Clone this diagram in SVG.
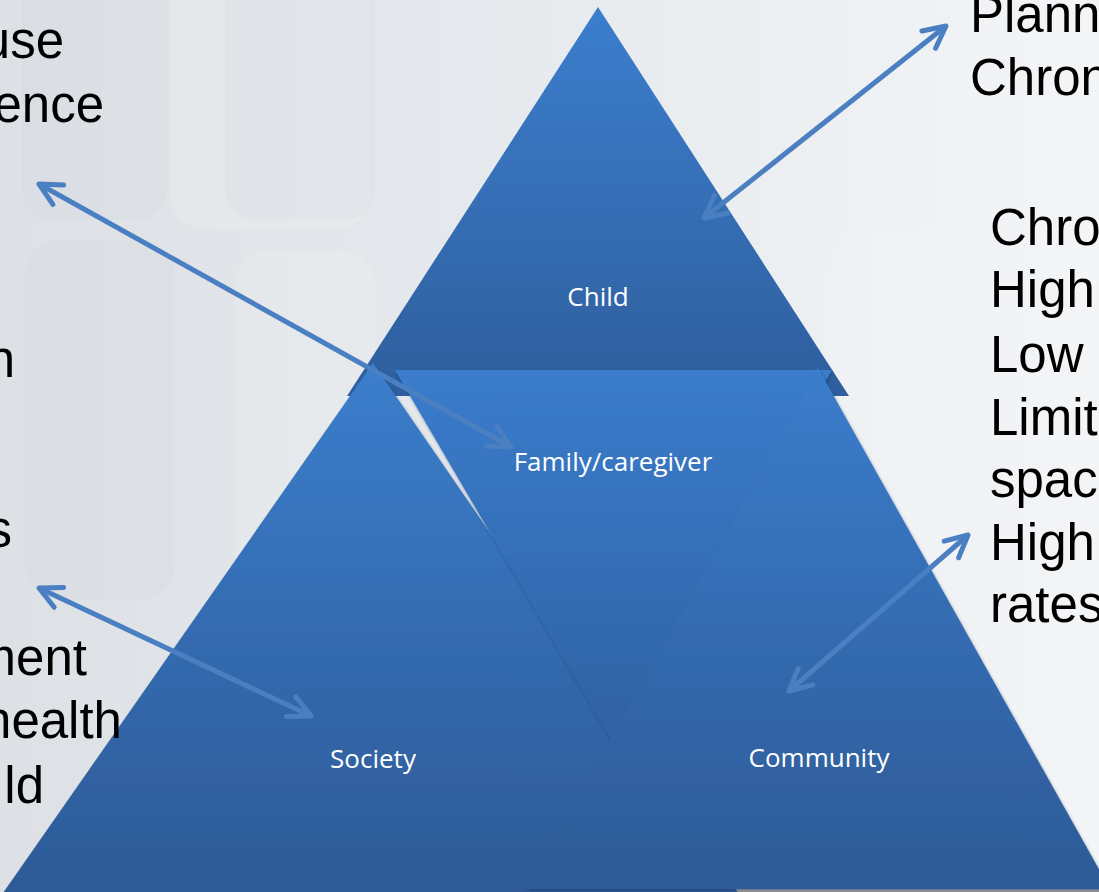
<svg xmlns="http://www.w3.org/2000/svg" width="1099" height="892" viewBox="0 0 1099 892">
  <style>
    .side { font-family: "Liberation Sans", Arial, sans-serif; font-size: 51px; fill: #000; }
    .lbl { font-family: "Open Sans", "Noto Sans", sans-serif; font-size: 26px; fill: #fff; text-anchor: middle; }
    .conn { fill: none; stroke: #4a7fc2; stroke-width: 5; stroke-linecap: butt; }
    .bgshape { fill: #ffffff; opacity: 0.12; }
    .bgdark { fill: #c9ced4; opacity: 0.12; }
  </style>
  <defs>
    <linearGradient id="bg" x1="0" y1="0" x2="1" y2="0">
      <stop offset="0" stop-color="#dde1e6"/>
      <stop offset="0.45" stop-color="#e6e9ed"/>
      <stop offset="1" stop-color="#f3f5f7"/>
    </linearGradient>
    <linearGradient id="gChild" gradientUnits="userSpaceOnUse" x1="0" y1="7" x2="0" y2="396">
      <stop offset="0" stop-color="#3b7ecd"/>
      <stop offset="0.45" stop-color="#3670b8"/>
      <stop offset="1" stop-color="#2e5e9d"/>
    </linearGradient>
    <linearGradient id="gSoc" gradientUnits="userSpaceOnUse" x1="0" y1="363" x2="0" y2="890">
      <stop offset="0" stop-color="#3b7ecd"/>
      <stop offset="1" stop-color="#2d5a96"/>
    </linearGradient>
    <linearGradient id="gFam" gradientUnits="userSpaceOnUse" x1="0" y1="370" x2="0" y2="740">
      <stop offset="0" stop-color="#3a7ccc"/>
      <stop offset="1" stop-color="#3062a3"/>
    </linearGradient>
    <linearGradient id="gCom" gradientUnits="userSpaceOnUse" x1="0" y1="368" x2="0" y2="889">
      <stop offset="0" stop-color="#3b7dcc"/>
      <stop offset="1" stop-color="#2d5a96"/>
    </linearGradient>
    <filter id="shadow" x="-10%" y="-10%" width="120%" height="120%">
      <feDropShadow dx="1" dy="2" stdDeviation="1.5" flood-color="#1d3557" flood-opacity="0.45"/>
    </filter>
    <marker id="ah" viewBox="-30 -15 34 30" refX="0" refY="0" markerWidth="34" markerHeight="30" markerUnits="userSpaceOnUse" orient="auto-start-reverse" overflow="visible">
      <path d="M-22,-11 L0,0 L-22,11" fill="none" stroke="#4a7fc2" stroke-width="5" stroke-linecap="round" stroke-linejoin="round"/>
    </marker>
  </defs>

  <!-- background -->
  <rect x="0" y="0" width="1099" height="892" fill="url(#bg)"/>
  <rect class="bgdark" x="22" y="-40" width="145" height="260" rx="30"/>
  <rect class="bgdark" x="25" y="240" width="150" height="360" rx="35"/>
  <rect class="bgshape" x="170" y="-40" width="200" height="270" rx="35"/>
  <rect class="bgshape" x="235" y="250" width="140" height="360" rx="35"/>
  <rect class="bgdark" x="225" y="-40" width="150" height="260" rx="30"/>
  <rect class="bgshape" x="830" y="230" width="140" height="330" rx="40"/>
  <rect x="735" y="888" width="364" height="4" fill="#a5a9ad"/>

  <!-- nodes -->
  <g id="child">
    <polygon points="598,7 347,396 849,396" fill="url(#gChild)"/>
    <text class="lbl" x="598" y="306">Child</text>
  </g>
  <g id="society">
    <polygon points="373,363 3,893 738,893" fill="url(#gSoc)" filter="url(#shadow)"/>
    <text class="lbl" x="373" y="768">Society</text>
  </g>
  <g id="family">
    <polygon points="395,370 832,370 611,740" fill="url(#gFam)" filter="url(#shadow)"/>
    <text class="lbl" x="613" y="471">Family/caregiver</text>
  </g>
  <g id="community">
    <polygon points="818,368 527,889 1110,889" fill="url(#gCom)" filter="url(#shadow)"/>
    <text class="lbl" x="819" y="767">Community</text>
  </g>

  <!-- side texts (cropped by the picture edge) -->
  <g id="left-text" class="side" text-anchor="end">
    <text x="64" y="58">use</text>
    <text x="104" y="122">ence</text>
    <text x="15" y="377">n</text>
    <text x="12" y="547">s</text>
    <text x="87" y="675">ment</text>
    <text x="122" y="738">health</text>
    <text x="44" y="803">ld</text>
  </g>
  <g id="right-text" class="side">
    <text x="970" y="32">Plann</text>
    <text x="970" y="95">Chron</text>
    <text x="990" y="245">Chro</text>
    <text x="990" y="307">High</text>
    <text x="990" y="372">Low</text>
    <text x="990" y="435">Limit</text>
    <text x="990" y="497">spac</text>
    <text x="990" y="560">High</text>
    <text x="990" y="622">rates</text>
  </g>

  <!-- connectors -->
  <g id="connectors">
    <line class="conn" x1="39" y1="184" x2="511" y2="447" marker-start="url(#ah)" marker-end="url(#ah)"/>
    <line class="conn" x1="946" y1="26" x2="704" y2="218" marker-start="url(#ah)" marker-end="url(#ah)"/>
    <line class="conn" x1="39" y1="588" x2="311" y2="716" marker-start="url(#ah)" marker-end="url(#ah)"/>
    <line class="conn" x1="968" y1="535" x2="789" y2="691" marker-start="url(#ah)" marker-end="url(#ah)"/>
  </g>
</svg>
